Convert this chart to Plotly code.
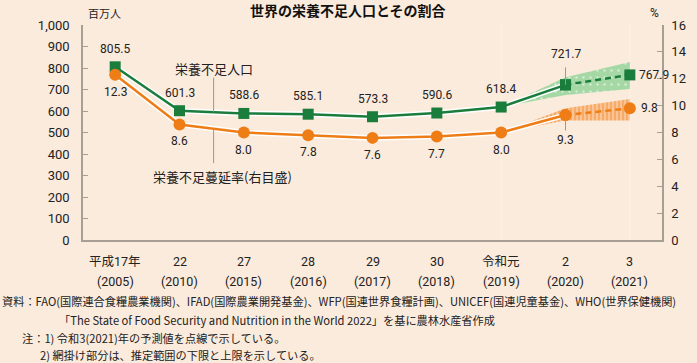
import plotly.graph_objects as go

# ---------------- data ----------------
categories = ["平成17年", "22", "27", "28", "29", "30", "令和元", "2", "3"]
years = ["(2005)", "(2010)", "(2015)", "(2016)", "(2017)", "(2018)", "(2019)", "(2020)", "(2021)"]
undernourished = [805.5, 601.3, 588.6, 585.1, 573.3, 590.6, 618.4, 721.7, 767.9]   # 百万人
prevalence = [12.3, 8.6, 8.0, 7.8, 7.6, 7.7, 8.0, 9.3, 9.8]                      # %
band_start = 6   # bands cover 令和元 .. 3
undernourished_low = [618.4, 674.0, 701.9]
undernourished_high = [618.4, 757.0, 828.0]
prevalence_low = [8.0, 8.9, 8.9]
prevalence_high = [8.0, 9.8, 10.5]
left_ticks = [0, 100, 200, 300, 400, 500, 600, 700, 800, 900, 1000]
right_ticks = [0, 2, 4, 6, 8, 10, 12, 14, 16]

title = "世界の栄養不足人口とその割合"
series_names = ["栄養不足人口", "栄養不足蔓延率(右目盛)"]
notes = [
    "資料：FAO(国際連合食糧農業機関)、IFAD(国際農業開発基金)、WFP(国連世界食糧計画)、UNICEF(国連児童基金)、WHO(世界保健機関)",
    "「The State of Food Security and Nutrition in the World 2022」を基に農林水産省作成",
    "注：1) 令和3(2021)年の予測値を点線で示している。",
    "2) 網掛け部分は、推定範囲の下限と上限を示している。",
]

# ---------------- style ----------------
BG = "#FBEBDC"
GREEN = "#1B7D3C"
ORANGE = "#EF7D16"
GREEN_BAND = "#A6D8A6"
ORANGE_BAND = "#F6AC68"
AXIS = "#A89F94"
TXT = "#222222"
FONT = "Roboto, 'Noto Sans CJK JP', sans-serif"
JFONT = "'Noto Sans CJK JP', sans-serif"

W, H = 697, 363
L, R, T, B = 83, 35, 25, 123
PW, PH = W - L - R, H - T - B


def px_x(px):
    return (px - L) / PW


def px_y(py):
    return (H - B - py) / PH


n = len(categories)
xi = list(range(n))
xb = xi[band_start:]

fig = go.Figure()

# bands
fig.add_trace(go.Scatter(x=xb, y=undernourished_low, mode="lines",
                         line=dict(width=0), hoverinfo="skip", showlegend=False))
fig.add_trace(go.Scatter(x=xb, y=undernourished_high, mode="lines",
                         line=dict(width=0), fill="tonexty", fillcolor=GREEN_BAND,
                         fillpattern=dict(shape=".", fgcolor="white", bgcolor=GREEN_BAND,
                                          size=7, solidity=0.1),
                         hoverinfo="skip", showlegend=False))
fig.add_trace(go.Scatter(x=xb, y=prevalence_low, yaxis="y2", mode="lines",
                         line=dict(width=0), hoverinfo="skip", showlegend=False))
fig.add_trace(go.Scatter(x=xb, y=prevalence_high, yaxis="y2", mode="lines",
                         line=dict(width=0), fill="tonexty", fillcolor=ORANGE_BAND,
                         fillpattern=dict(shape="|", fgcolor="white", bgcolor=ORANGE_BAND,
                                          size=4, solidity=0.3),
                         hoverinfo="skip", showlegend=False))

# white halos under solid parts
fig.add_trace(go.Scatter(x=xi[:8], y=prevalence[:8], yaxis="y2", mode="lines",
                         line=dict(color="white", width=5.5), hoverinfo="skip", showlegend=False))
fig.add_trace(go.Scatter(x=xi[:8], y=undernourished[:8], mode="lines",
                         line=dict(color="white", width=5.5), hoverinfo="skip", showlegend=False))

# prevalence line (right axis)
fig.add_trace(go.Scatter(x=xi[:8], y=prevalence[:8], yaxis="y2", mode="lines+markers",
                         line=dict(color=ORANGE, width=2.5),
                         marker=dict(symbol="circle", size=12, color=ORANGE),
                         name=series_names[1], showlegend=False))
fig.add_trace(go.Scatter(x=xi[7:], y=prevalence[7:], yaxis="y2", mode="lines+markers",
                         line=dict(color=ORANGE, width=2.5, dash="6px,4px"),
                         marker=dict(symbol="circle", size=12, color=ORANGE),
                         showlegend=False))

# undernourished line (left axis)
fig.add_trace(go.Scatter(x=xi[:8], y=undernourished[:8], mode="lines+markers",
                         line=dict(color=GREEN, width=2.5),
                         marker=dict(symbol="square", size=11, color=GREEN),
                         name=series_names[0], showlegend=False))
fig.add_trace(go.Scatter(x=xi[7:], y=undernourished[7:], mode="lines+markers",
                         line=dict(color=GREEN, width=2.5, dash="6px,4px"),
                         marker=dict(symbol="square", size=11, color=GREEN),
                         showlegend=False))

ann = []

# data labels
for i in range(n):
    g = undernourished[i]
    p = prevalence[i]
    gtxt = f"{g:.1f}"
    ptxt = f"{p:.1f}"
    if i == n - 1:
        ann.append(dict(x=i, y=g, xref="x", yref="y", text=gtxt, showarrow=False,
                        xanchor="left", xshift=7, font=dict(size=12, color=TXT, family=FONT)))
        ann.append(dict(x=i, y=p, xref="x", yref="y2", text=ptxt, showarrow=False,
                        xanchor="left", xshift=9, font=dict(size=12, color=TXT, family=FONT)))
    elif i == n - 2:
        ann.append(dict(x=i, y=g, xref="x", yref="y", text="", showarrow=True,
                        arrowhead=0, arrowwidth=1, arrowcolor="#999999", ax=0, ay=-19))
        ann.append(dict(x=i, y=g, xref="x", yref="y", text=gtxt, showarrow=False,
                        yshift=31, font=dict(size=12, color=TXT, family=FONT)))
        ann.append(dict(x=i, y=p, xref="x", yref="y2", text="", showarrow=True,
                        arrowhead=0, arrowwidth=1, arrowcolor="#999999", ax=0, ay=17))
        ann.append(dict(x=i, y=p, xref="x", yref="y2", text=ptxt, showarrow=False,
                        yshift=-25, font=dict(size=12, color=TXT, family=FONT)))
    else:
        ann.append(dict(x=i, y=g, xref="x", yref="y", text=gtxt, showarrow=False,
                        yshift=18, font=dict(size=12, color=TXT, family=FONT)))
        ann.append(dict(x=i, y=p, xref="x", yref="y2", text=ptxt, showarrow=False,
                        yshift=-17, font=dict(size=12, color=TXT, family=FONT)))

# series name labels with leader lines
t = 0.53
xg = 1 + t
yg = undernourished[1] + t * (undernourished[2] - undernourished[1])
yp = prevalence[1] + t * (prevalence[2] - prevalence[1])
ann.append(dict(x=xg, y=yg, xref="x", yref="y", text="", showarrow=True, arrowhead=0,
                arrowwidth=1, arrowcolor="#999999", ax=0, ay=-36))
ann.append(dict(x=xg, y=yg, xref="x", yref="y", text=series_names[0], showarrow=False,
                yshift=44, font=dict(size=13, color=TXT, family=JFONT)))
ann.append(dict(x=xg, y=yp, xref="x", yref="y2", text="", showarrow=True, arrowhead=0,
                arrowwidth=1, arrowcolor="#999999", ax=0, ay=36))
ann.append(dict(x=xg, y=yp, xref="x", yref="y2", text=series_names[1], showarrow=False,
                yshift=-48, xshift=9, font=dict(size=13, color=TXT, family=JFONT)))

# category labels (two rows)
for i in range(n):
    ann.append(dict(x=i, y=px_y(261), xref="x", yref="paper", text=categories[i],
                    showarrow=False, yanchor="middle", font=dict(size=12.5, color=TXT, family=FONT)))
    ann.append(dict(x=i, y=px_y(281), xref="x", yref="paper", text=years[i],
                    showarrow=False, yanchor="middle", font=dict(size=12.5, color=TXT, family=FONT)))

# title & units
ann.append(dict(x=px_x(348), y=px_y(10), xref="paper", yref="paper", text=f"<b>{title}</b>",
                showarrow=False, yanchor="middle", font=dict(size=14, color="#111111", family=JFONT)))
ann.append(dict(x=px_x(86), y=px_y(13), xref="paper", yref="paper", text="百万人",
                showarrow=False, yanchor="middle", font=dict(size=11, color=TXT, family=JFONT)))
ann.append(dict(x=px_x(661), y=px_y(13), xref="paper", yref="paper", text="%",
                showarrow=False, yanchor="middle", font=dict(size=12, color=TXT, family=FONT)))

# notes
note_pos = [(0, 301), (57, 320), (20, 338), (38, 355)]
for txt, (nx, ny) in zip(notes, note_pos):
    ann.append(dict(x=px_x(nx), y=px_y(ny), xref="paper", yref="paper", text=txt,
                    showarrow=False, xanchor="left", yanchor="middle",
                    font=dict(size=11.2, color=TXT, family=JFONT)))

# faint vertical guide lines at forecast region
shapes = []
for c in (6, 8):
    shapes.append(dict(type="line", xref="x", yref="paper", x0=c, x1=c, y0=0, y1=1,
                       line=dict(color="rgba(255,255,255,0.35)", width=1), layer="below"))

fig.update_layout(
    width=W, height=H,
    margin=dict(l=L, r=R, t=T, b=B, pad=0),
    paper_bgcolor=BG, plot_bgcolor=BG,
    showlegend=False,
    font=dict(family=FONT, color=TXT),
    annotations=ann,
    shapes=shapes,
    xaxis=dict(range=[-0.5, n - 0.5], showticklabels=False, ticks="",
               showline=True, linecolor=AXIS, linewidth=1.5, showgrid=False, zeroline=False,
               automargin=False),
    yaxis=dict(range=[0, 1000], tickvals=left_ticks, tickformat=",", ticks="inside",
               ticklen=5, tickcolor=AXIS, showline=True, linecolor=AXIS, linewidth=1.5,
               showgrid=False, zeroline=False, tickfont=dict(size=13, color=TXT, family=FONT),
               ticklabelstandoff=9, automargin=False),
    yaxis2=dict(range=[0, 16], tickvals=right_ticks, overlaying="y", side="right",
                ticks="inside", ticklen=5, tickcolor=AXIS, showline=True, linecolor=AXIS,
                linewidth=1.5, showgrid=False, zeroline=False,
                tickfont=dict(size=13, color=TXT, family=FONT), ticklabelstandoff=5,
                automargin=False),
)

fig.write_html("out.html", config={"displayModeBar": False},
               post_script="document.body.style.margin='0';document.body.style.background='" + BG + "';")
